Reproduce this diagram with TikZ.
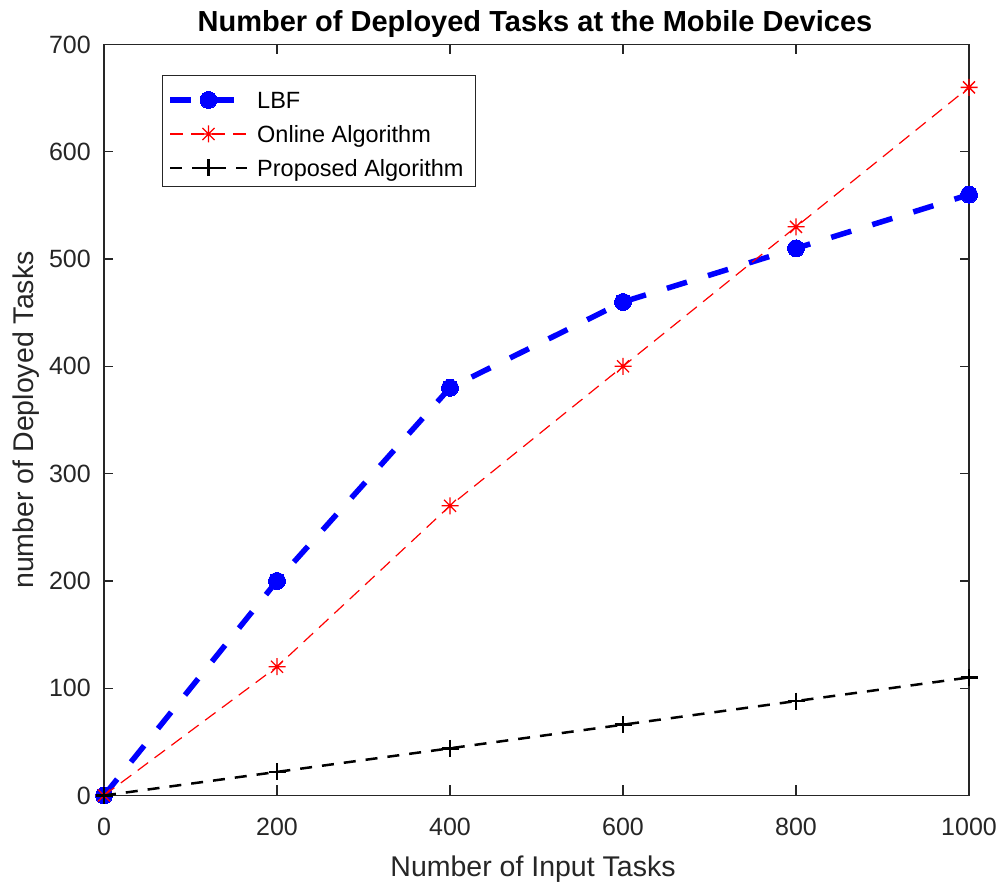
\documentclass[tikz,border=0pt]{standalone}
\usepackage{fontspec}
\setmainfont{Liberation Sans}
\usetikzlibrary{plotmarks,positioning}
\definecolor{axgray}{RGB}{38,38,38}
\definecolor{lbfblue}{RGB}{0,0,255}
\definecolor{onlred}{RGB}{255,0,0}
% eight-armed asterisk, as the red series uses
\pgfdeclareplotmark{starx}{%
  \pgfpathmoveto{\pgfqpoint{-\pgfplotmarksize}{0pt}}\pgfpathlineto{\pgfqpoint{\pgfplotmarksize}{0pt}}%
  \pgfpathmoveto{\pgfqpoint{0pt}{-\pgfplotmarksize}}\pgfpathlineto{\pgfqpoint{0pt}{\pgfplotmarksize}}%
  \pgfpathmoveto{\pgfqpoint{-.7071\pgfplotmarksize}{-.7071\pgfplotmarksize}}%
  \pgfpathlineto{\pgfqpoint{.7071\pgfplotmarksize}{.7071\pgfplotmarksize}}%
  \pgfpathmoveto{\pgfqpoint{-.7071\pgfplotmarksize}{.7071\pgfplotmarksize}}%
  \pgfpathlineto{\pgfqpoint{.7071\pgfplotmarksize}{-.7071\pgfplotmarksize}}%
  \pgfusepathqstroke}

\begin{document}
\begin{tikzpicture}[
  x=1pt, y=1pt,
  axisline/.style={draw=axgray,line width=1.3pt},
  ticklabel/.style={text=axgray,inner sep=0pt,font=\fontsize{25}{30}\selectfont},
  axlabel/.style={text=axgray,inner sep=0pt,font=\fontsize{28.5}{34}\selectfont},
  legtext/.style={inner sep=0pt,font=\fontsize{23.5}{28}\selectfont},
  lbfline/.style={draw=lbfblue,line width=5.5pt,dash pattern=on 21pt off 22pt},
  lbfmark/.style={mark=*,mark size=8.5pt,mark options={solid,fill=lbfblue,draw=lbfblue,line width=0pt}},
  onlline/.style={draw=onlred,line width=1.2pt,dash pattern=on 13pt off 8pt},
  onlmark/.style={mark=starx,mark size=8.5pt,mark options={solid,draw=onlred,line width=1.3pt}},
  propline/.style={draw=black,line width=2.5pt,dash pattern=on 12pt off 10pt},
  propmark/.style={mark=+,mark size=8.5pt,mark options={solid,draw=black,line width=2.5pt}}
]
\fill[white] (0,0) rectangle (1002,888);
\useasboundingbox (0,0) rectangle (1002,888);

\node[font=\bfseries\fontsize{29}{34}\selectfont,inner sep=0pt,anchor=base] (title) at (535,856)
 {Number of Deployed Tasks at the Mobile Devices};
\node[axlabel,anchor=base] (xlab) at (533,11) {Number of Input Tasks};
\node[axlabel,anchor=base,rotate=90] (ylab) at (33,468) {number of Deployed Tasks};

\begin{scope}[shift={(104pt,92.5pt)},x=0.865pt,y=1.0729pt]
  \draw[axisline] (0,0) rectangle (1000,700);
  \foreach \xv in {200,400,600,800} {
    \draw[axisline] (\xv,0) -- ++(0,10pt);
    \draw[axisline] (\xv,700) -- ++(0,-10pt);
  }
  \foreach \yv in {100,200,...,600} {
    \draw[axisline] (0,\yv) -- ++(9pt,0);
    \draw[axisline] (1000,\yv) -- ++(-9pt,0);
  }
  \foreach \xv in {0,200,...,1000}
    \node[ticklabel,yshift=-31.5pt] (xt\xv) at (\xv,0) {\xv};
  \foreach \yv in {0,100,...,700}
    \node[ticklabel,anchor=east,xshift=-13pt] (yt\yv) at (0,\yv) {\yv};

  % series
  \draw[lbfline,lbfmark] plot coordinates {(0,0) (200,200) (400,380) (600,460) (800,510) (1000,560)};
  \draw[onlline,onlmark] plot coordinates {(0,0) (200,120) (400,270) (600,400) (800,530) (1000,660)};
  \draw[propline,propmark] plot coordinates {(0,0) (200,22) (400,44) (600,66) (800,88) (1000,110)};
\end{scope}

% legend
\node[draw=axgray,line width=1pt,fill=white,minimum width=313pt,minimum height=111pt,inner sep=0pt]
 (legend) at (318.5,756.5) {};
\node[legtext,anchor=base west] (legLBF) at (257,779) {LBF};
\node[legtext,anchor=base west] (legOnl) at (257,745) {Online Algorithm};
\node[legtext,anchor=base west] (legProp) at (257,711) {Proposed Algorithm};
\draw[lbfline] (170,788) -- (247,788);
\path[lbfmark] plot coordinates {(208.5,788)};
\draw[onlline] (170,754) -- (247,754);
\path[onlmark] plot coordinates {(208.5,754)};
\draw[propline] (170,720) -- (247,720);
\path[propmark] plot coordinates {(208.5,720)};
\end{tikzpicture}
\end{document}
